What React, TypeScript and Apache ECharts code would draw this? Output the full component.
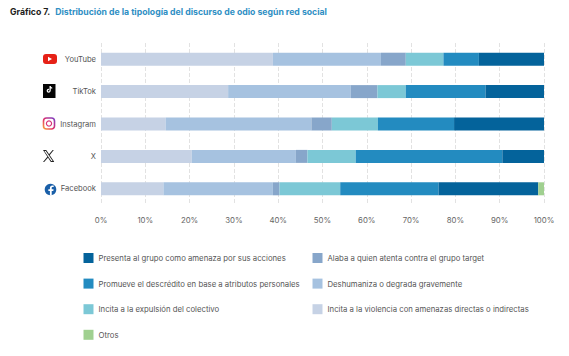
import React, { useEffect, useRef } from "react";
import * as echarts from "echarts";

const categories = ["Facebook", "X", "Instagram", "TikTok", "YouTube"];
const uiFont = "Inter, 'Noto Sans', sans-serif";

const violencia = [14.1, 20.5, 14.6, 28.7, 38.8];
const deshumaniza = [24.7, 23.5, 32.9, 27.7, 24.4];
const alaba = [1.5, 2.6, 4.6, 6.0, 5.6];
const expulsion = [13.7, 10.9, 10.4, 6.4, 8.5];
const descredito = [22.2, 33.1, 17.2, 18.0, 8.0];
const amenaza = [22.5, 9.4, 20.3, 13.2, 14.7];
const otros = [1.3, 0, 0, 0, 0];

const names = {
  amenaza: "Presenta al grupo como amenaza por sus acciones",
  alaba: "Alaba a quien atenta contra el grupo target",
  descredito: "Promueve el descrédito en base a atributos personales",
  deshumaniza: "Deshumaniza o degrada gravemente",
  expulsion: "Incita a la expulsión del colectivo",
  violencia: "Incita a la violencia con amenazas directas o indirectas",
  otros: "Otros",
};

const X_LOGO =
  "M0 0 H7 L24 23 V24 H17 Z M3 2 L18 22 H21 L6 2 Z M21 0 H23.5 L14 11 L12.6 9.2 Z M9.8 13.2 L11.2 15 L2.5 24 H0 Z";
const F_LOGO =
  "M13.5 24 V14.6 H17 L17.6 10.8 H13.5 V8.4 C13.5 7.2 14.1 6.4 15.7 6.4 H17.8 V3.2 C17 3.1 15.9 3 14.8 3 C11.6 3 9.6 4.9 9.6 8 V10.8 H6.2 V14.6 H9.6 V24 Z";
const NOTE =
  "M12.5 3 H16 C16.2 5.2 17.6 6.7 20 6.9 V10.2 C18.5 10.2 17.2 9.8 16 9 V15.5 C16 19 13.4 21.3 10.3 21.3 C7.1 21.3 4.6 18.8 4.6 15.8 C4.6 12.4 7.6 9.9 11 10.4 V13.9 C9.4 13.4 8 14.4 8 15.9 C8 17.1 9 18 10.2 18 C11.5 18 12.5 17 12.5 15.5 Z";

echarts.graphic.registerShape("xLogoPath", echarts.graphic.extendPath(X_LOGO, {}));
echarts.graphic.registerShape("fLogoPath", echarts.graphic.extendPath(F_LOGO, {}));
echarts.graphic.registerShape("noteLogoPath", echarts.graphic.extendPath(NOTE, {}));

export default function App() {
  const ref = useRef<HTMLDivElement>(null);
  useEffect(() => {
    const chart = echarts.init(ref.current!, null, { renderer: "svg" });
    const gradient = new echarts.graphic.LinearGradient(0, 1, 1, 0, [
      { offset: 0, color: "#f9a13a" },
      { offset: 0.45, color: "#e1306c" },
      { offset: 1, color: "#7a3fc4" },
    ]);
    const bar = (name: string, data: number[], color: string) => ({
      name,
      type: "bar",
      stack: "total",
      data,
      barWidth: 13,
      itemStyle: { color },
    });
    const legendBase = {
      orient: "vertical",
      icon: "rect",
      itemWidth: 10,
      itemHeight: 10,
      itemGap: 15.6,
      textStyle: { fontFamily: uiFont, fontSize: 7.75, color: "#555555" },
      selectedMode: false,
    };
    chart.setOption({
      animation: false,
      title: {
        left: 5,
        top: -2,
        text: "{a|Gráfico 7.} {b|Distribución de la tipología del discurso de odio según red social}",
        textStyle: {
          rich: {
            a: { fontFamily: uiFont, fontSize: 8.7, fontWeight: 700, color: "#1d1d1b" },
            b: { fontFamily: uiFont, fontSize: 8.7, fontWeight: 700, color: "#2f8fc4" },
          },
        },
      },
      grid: { left: 101, right: 25, top: 43, bottom: 151 },
      xAxis: {
        type: "value",
        min: 0,
        max: 100,
        interval: 10,
        axisLabel: { formatter: "{value}%", fontFamily: uiFont, fontSize: 7.8, color: "#666666", margin: 11 },
        axisLine: { show: false },
        axisTick: { show: false },
        splitLine: { show: true, lineStyle: { color: "#e2e2e2", type: [4, 2], width: 1 } },
      },
      yAxis: {
        type: "category",
        data: categories,
        axisLabel: { fontFamily: uiFont, fontSize: 7.6, color: "#555555", margin: 5 },
        axisLine: { show: false },
        axisTick: { show: false },
      },
      legend: [
        {
          ...legendBase,
          left: 78.5,
          top: 248,
          data: [names.amenaza, names.descredito, names.expulsion, names.otros],
        },
        {
          ...legendBase,
          left: 307.5,
          top: 248,
          data: [names.alaba, names.deshumaniza, names.violencia],
        },
      ],
      series: [
        bar(names.violencia, violencia, "#c6d2e5"),
        bar(names.deshumaniza, deshumaniza, "#a6c2e0"),
        bar(names.alaba, alaba, "#87a6ca"),
        bar(names.expulsion, expulsion, "#7cc8d6"),
        bar(names.descredito, descredito, "#238bc0"),
        bar(names.amenaza, amenaza, "#04639b"),
        bar(names.otros, otros, "#a0d090"),
      ],
      graphic: [
        { type: "rect", shape: { x: 43, y: 54, width: 14, height: 10, r: 3 }, style: { fill: "#e62117" } },
        { type: "polygon", shape: { points: [[48, 56.8], [48, 61.2], [52, 59]] }, style: { fill: "#ffffff" } },
        { type: "rect", shape: { x: 43, y: 84, width: 12.5, height: 14 }, style: { fill: "#050505" } },
        { type: "noteLogoPath", x: 45, y: 85, scaleX: 0.36, scaleY: 0.36, style: { fill: "#ffffff" } },
        {
          type: "rect",
          shape: { x: 43.5, y: 118, width: 11, height: 11, r: 3 },
          style: { fill: "#ffffff", stroke: gradient, lineWidth: 1.6 },
        },
        { type: "circle", shape: { cx: 49, cy: 123.5, r: 2.6 }, style: { fill: "#ffffff", stroke: "#d9337a", lineWidth: 1.2 } },
        { type: "xLogoPath", x: 43, y: 150, scaleX: 0.46, scaleY: 0.5, style: { fill: "#222222" } },
        { type: "circle", shape: { cx: 50.5, cy: 189.5, r: 5.8 }, style: { fill: "#1a5fa8" } },
        { type: "fLogoPath", x: 45.5, y: 184, scaleX: 0.46, scaleY: 0.48, style: { fill: "#ffffff" } },
      ],
    });
    return () => chart.dispose();
  }, []);
  return <div ref={ref} style={{ position: "absolute", left: 0, top: 0, width: 569, height: 356, background: "#fff" }} />;
}
